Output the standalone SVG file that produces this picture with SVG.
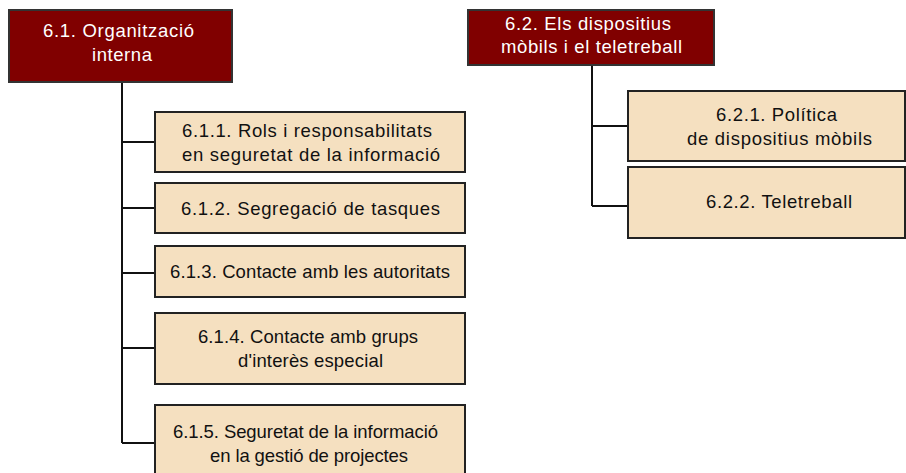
<svg xmlns="http://www.w3.org/2000/svg" width="906" height="473" viewBox="0 0 906 473">
<style>
.main{fill:#800000;stroke:#333;stroke-width:2}
.sub{fill:#f5e0c0;stroke:#222;stroke-width:2}
.tm{font-family:"Liberation Sans",Arial,sans-serif;font-size:18.5px;fill:#fff;text-anchor:middle}
.ts{font-family:"Liberation Sans",Arial,sans-serif;font-size:18.5px;fill:#111;text-anchor:middle}
.conn{fill:none;stroke:#111;stroke-width:2}
</style>
<rect width="906" height="473" fill="#fff"/>
<g id="connectors">
<path class="conn" d="M122 82 V443 M122 142 H155 M122 208 H155 M122 273 H155 M122 348 H155 M122 443 H155"/>
<path class="conn" d="M592 65 V206 M592 126 H628 M592 206 H628"/>
</g>
<g id="n61">
<rect class="main" x="9" y="10" width="223" height="72"/>
<text class="tm" x="118.5" y="37" textLength="151" lengthAdjust="spacing">6.1. Organització</text>
<text class="tm" x="122" y="61" textLength="60" lengthAdjust="spacing">interna</text>
</g>
<g id="n62">
<rect class="main" x="468" y="10" width="246" height="55"/>
<text class="tm" x="588" y="30" textLength="166" lengthAdjust="spacing">6.2. Els dispositius</text>
<text class="tm" x="591.5" y="53" textLength="181" lengthAdjust="spacing">mòbils i el teletreball</text>
</g>
<g id="n611">
<rect class="sub" x="155" y="112" width="310" height="60"/>
<text class="ts" x="307" y="137" textLength="250" lengthAdjust="spacing">6.1.1. Rols i responsabilitats</text>
<text class="ts" x="311" y="161" textLength="258" lengthAdjust="spacing">en seguretat de la informació</text>
</g>
<g id="n612">
<rect class="sub" x="155" y="183" width="310" height="50"/>
<text class="ts" x="310.5" y="215" textLength="259" lengthAdjust="spacing">6.1.2. Segregació de tasques</text>
</g>
<g id="n613">
<rect class="sub" x="155" y="246" width="310" height="51"/>
<text class="ts" x="310" y="278" textLength="280" lengthAdjust="spacing">6.1.3. Contacte amb les autoritats</text>
</g>
<g id="n614">
<rect class="sub" x="155" y="313" width="310" height="71"/>
<text class="ts" x="308" y="343" textLength="220" lengthAdjust="spacing">6.1.4. Contacte amb grups</text>
<text class="ts" x="310.5" y="367" textLength="145" lengthAdjust="spacing">d'interès especial</text>
</g>
<g id="n615">
<rect class="sub" x="155" y="405" width="310" height="80"/>
<text class="ts" x="305.5" y="438" textLength="265" lengthAdjust="spacing">6.1.5. Seguretat de la informació</text>
<text class="ts" x="309" y="462" textLength="198" lengthAdjust="spacing">en la gestió de projectes</text>
</g>
<g id="n621">
<rect class="sub" x="628" y="91" width="277" height="70"/>
<text class="ts" x="776.5" y="121" textLength="121" lengthAdjust="spacing">6.2.1. Política</text>
<text class="ts" x="779.5" y="145" textLength="185" lengthAdjust="spacing">de dispositius mòbils</text>
</g>
<g id="n622">
<rect class="sub" x="628" y="167" width="277" height="71"/>
<text class="ts" x="779" y="208" textLength="146" lengthAdjust="spacing">6.2.2. Teletreball</text>
</g>
</svg>
